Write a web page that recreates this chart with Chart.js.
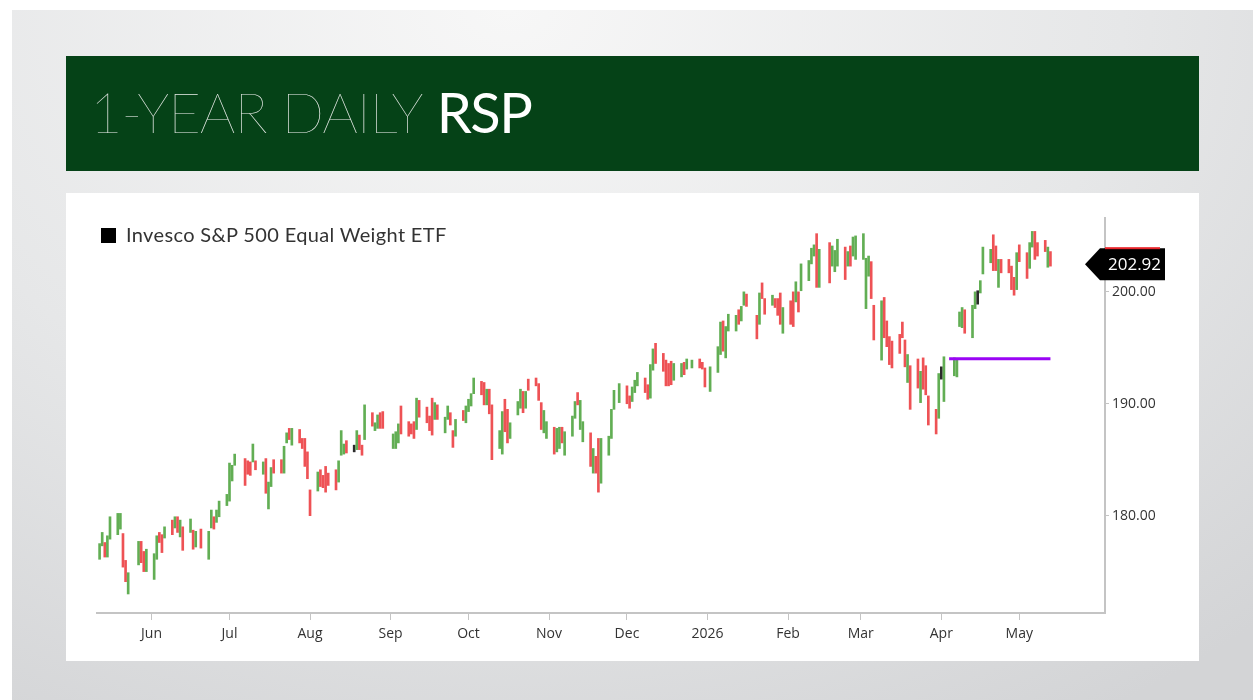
<!DOCTYPE html>
<html>
<head>
<meta charset="utf-8">
<title>1-Year Daily RSP</title>
<script src="https://cdn.jsdelivr.net/npm/chart.js@4.4.1/dist/chart.umd.min.js"></script>
<style>
    html, body { margin: 0; padding: 0; width: 1253px; height: 700px; overflow: hidden; background: #ffffff; }
    #backdrop {
        position: absolute; left: 12px; top: 10px; width: 1241px; height: 690px;
        background: radial-gradient(ellipse 90% 120% at 40% 0%, #f7f7f7 0%, #e6e7e8 55%, #d3d4d6 100%);
    }
    #header {
        position: absolute; left: 66px; top: 56px; width: 1133px; height: 115px;
        background: #054217; font-family: Lato, sans-serif; font-size: 56px;
        line-height: 111px; padding-left: 24px; box-sizing: border-box; white-space: nowrap;
    }
    #header .thin { font-weight: 100; color: #e9ece9; letter-spacing: -1px; }
    #header .bold { font-weight: 400; color: #ffffff; letter-spacing: -1.5px; }
    #panel { position: absolute; left: 66px; top: 193px; width: 1133px; height: 468px; background: #ffffff; }
    #legend {
        position: absolute; left: 35px; top: 29px; font-family: Lato, sans-serif; font-size: 20px;
        letter-spacing: 0.35px; color: #333333; line-height: 24px; white-space: nowrap;
    }
    #legend .swatch { display: inline-block; width: 15px; height: 15px; background: #000; vertical-align: -1px; margin-right: 10px; }
    #chartWrap { position: absolute; left: 0; top: 0; width: 1133px; height: 468px; }
</style>
</head>
<body>
<div id="backdrop"></div>
<div id="header"><span class="thin">1-YEAR DAILY</span> <span class="bold">RSP</span></div>
<div id="panel">
    <div id="chartWrap"><canvas id="rspChart"></canvas></div>
    <div id="legend"><span class="swatch"></span>Invesco S&amp;P 500 Equal Weight ETF</div>
</div>
<script>
// ---- data ---------------------------------------------------------------
const firstDay = '2025-05-12';
const lastDay = '2026-05-13';
const marketHolidays = ['2025-05-26', '2025-06-19', '2025-07-04', '2025-09-01', '2025-11-27',
    '2025-12-25', '2026-01-01', '2026-01-19', '2026-02-16', '2026-04-03'];

const highs = [
    177.5, 178.5, 177.6, 178.2, 179.9, 180.2, 180.2, 178.4, 176.0, 174.9,
    177.7, 177.7, 176.8, 177.0, 176.6, 178.2, 178.5, 178.3, 179.0, 179.6,
    179.9, 179.9, 179.6, 179.0, 179.7, 178.7, 178.6, 178.8, 178.6, 180.5,
    179.9, 180.5, 181.3, 181.9, 184.7, 184.5, 185.5, 185.1, 184.9, 184.8,
    186.4, 184.9, 184.8, 185.1, 183.0, 184.3, 185.0, 185.0, 186.2, 187.4,
    187.8, 187.8, 187.7, 186.9, 186.9, 185.7, 182.3, 183.9, 184.1, 183.6,
    184.4, 183.8, 184.1, 184.9, 187.6, 186.4, 186.7, 186.3, 187.6, 187.2,
    186.3, 189.9, 189.2, 188.3, 189.0, 189.2, 189.3, 187.3, 187.5, 188.2,
    189.8, 188.4, 188.2, 188.4, 190.5, 190.3, 189.7, 188.9, 190.5, 190.1,
    189.9, 188.8, 189.8, 189.2, 187.6, 188.6, 189.4, 189.8, 190.4, 190.9,
    192.3, 192.0, 191.9, 191.3, 191.3, 189.9, 187.6, 189.3, 190.4, 189.5,
    188.3, 190.2, 191.3, 191.1, 191.1, 192.2, 192.3, 191.8, 190.1, 189.4,
    188.4, 187.9, 187.8, 187.9, 187.9, 187.5, 188.9, 190.2, 191.0, 190.3,
    188.4, 187.4, 186.0, 185.3, 186.9, 186.9, 187.1, 189.5, 191.2, 191.8,
    191.6, 190.7, 191.5, 192.1, 192.8, 192.3, 191.7, 193.5, 194.9, 195.4,
    194.5, 193.9, 193.6, 193.8, 193.6, 193.6, 193.7, 194.0, 193.9, 194.0,
    193.7, 193.2, 193.3, 195.1, 197.3, 197.4, 196.9, 198.0, 197.9, 198.4,
    198.7, 200.0, 199.8, 197.9, 199.9, 200.8, 199.4, 199.7, 199.4, 199.4,
    199.9, 198.6, 199.2, 200.0, 200.9, 200.0, 202.5, 202.8, 203.9, 204.2,
    205.2, 203.8, 204.4, 204.1, 203.7, 204.7, 204.0, 203.6, 204.1, 204.9,
    205.0, 205.2, 203.0, 203.2, 202.7, 198.8, 199.2, 199.5, 197.4, 196.0,
    195.6, 196.2, 197.3, 195.7, 194.4, 193.4, 194.0, 192.9, 194.1, 193.4,
    190.7, 189.5, 192.7, 193.3, 194.2, 194.1, 193.9, 198.2, 198.6, 198.4,
    198.8, 200.0, 200.1, 201.0, 204.0, 203.8, 205.1, 204.1, 202.9, 202.9,
    202.9, 202.3, 201.3, 203.5, 204.2, 203.5, 204.4, 205.4, 205.4, 204.4,
    204.6, 204.0, 203.6
];

const lows = [
    176.1, 177.3, 176.3, 176.3, 177.9, 178.3, 178.8, 175.4, 174.1, 173.0,
    175.6, 175.8, 175.0, 175.0, 174.3, 176.1, 177.6, 176.7, 178.0, 178.3,
    178.9, 178.5, 178.1, 176.9, 178.5, 177.0, 177.2, 177.1, 176.1, 178.9,
    178.8, 179.4, 179.9, 180.9, 181.3, 183.1, 184.5, 182.7, 183.7, 183.6,
    184.8, 184.1, 183.7, 182.0, 180.6, 182.6, 183.8, 183.8, 183.8, 186.5,
    186.8, 186.3, 186.5, 186.0, 184.4, 183.3, 180.0, 182.2, 182.6, 182.5,
    182.1, 182.7, 182.3, 183.0, 185.4, 185.5, 185.6, 185.7, 185.9, 185.9,
    185.4, 186.8, 188.0, 187.6, 187.8, 187.8, 187.8, 186.0, 186.0, 186.5,
    187.3, 187.1, 187.3, 186.9, 187.7, 188.8, 188.3, 187.6, 187.2, 188.6,
    188.6, 187.4, 188.6, 188.1, 186.1, 187.1, 188.5, 188.3, 189.3, 189.8,
    190.9, 190.8, 189.9, 189.9, 189.1, 185.0, 186.0, 185.5, 187.5, 186.5,
    186.9, 189.0, 189.6, 189.2, 189.6, 191.2, 191.6, 190.3, 187.7, 187.4,
    186.9, 185.5, 185.7, 186.0, 186.5, 185.4, 187.1, 188.7, 189.9, 187.7,
    186.6, 184.4, 183.8, 183.8, 182.1, 182.9, 185.4, 186.9, 189.5, 190.1,
    190.0, 189.6, 190.2, 191.0, 191.6, 191.0, 190.4, 190.5, 193.0, 193.6,
    192.9, 191.6, 191.6, 191.7, 192.1, 192.4, 192.6, 193.1, 193.2, 193.2,
    193.1, 191.5, 191.1, 192.8, 194.4, 194.7, 194.1, 196.5, 196.5, 197.1,
    197.4, 198.8, 198.7, 195.8, 197.1, 199.4, 198.0, 198.8, 198.6, 197.9,
    197.1, 196.3, 197.1, 196.9, 199.1, 198.2, 200.1, 201.0, 202.5, 203.2,
    200.4, 200.4, 200.8, 202.3, 201.8, 202.3, 201.1, 202.3, 202.3, 203.2,
    202.9, 202.9, 198.5, 201.4, 199.4, 195.7, 193.9, 195.9, 195.1, 193.5,
    193.2, 194.5, 195.9, 193.3, 191.9, 189.5, 191.4, 190.1, 191.3, 190.8,
    188.1, 187.3, 188.7, 192.2, 190.2, 192.5, 192.4, 196.9, 196.8, 196.3,
    195.9, 198.5, 198.9, 199.9, 201.6, 202.6, 201.9, 201.9, 200.4, 201.7,
    201.7, 200.2, 199.7, 200.2, 202.7, 201.2, 202.1, 204.0, 202.9, 203.2,
    203.6, 202.2, 202.3
];

// g = up day, r = down day, k = unchanged (ten sessions per group)
const moves = [
    'ggrggggrrg', 'grrgggrrgr', 'grgrgrgrgg', 'rggggggrrr', 'grgrggrrgg',
    'rgrrrrrgrr', 'rrrgggrkgr', 'rgrggrrggg', 'rrrrgrrrrg', 'rggrrgrggg',
    'grrgrrggrr', 'gggrgrrrrg', 'grggrgggrg', 'grgrrggggg', 'rrgggrrggr',
    'rrrrggrggr', 'rrgggrgggr', 'ggrrgrrgrr', 'rgrrgrgggg', 'rgrgggrgrg',
    'ggggrrgrrr', 'rrrrgrrgrr', 'rrgkgggggr', 'ggkgggrrgr', 'rrrgrrggrr',
    'rgr'
].join('').split('');

const lastClose = 202.92;
const supportLevel = 194.02;
const supportFrom = '2026-04-04';
const supportTo = '2026-05-13';

const monthTicks = ['2025-06-01', '2025-07-01', '2025-08-01', '2025-09-01', '2025-10-01', '2025-11-01',
    '2025-12-01', '2026-01-01', '2026-02-01', '2026-03-01', '2026-04-01', '2026-05-01'];
const monthLabels = ['Jun', 'Jul', 'Aug', 'Sep', 'Oct', 'Nov', 'Dec', '2026', 'Feb', 'Mar', 'Apr', 'May'];

const axisFrom = '2025-05-11';
const axisTo = '2026-06-03';
const priceMin = 171.3;
const priceMax = 206.6;
const priceTicks = [180, 190, 200];

// ---- helpers ------------------------------------------------------------
const dayNum = (s) => Date.UTC(+s.slice(0, 4), +s.slice(5, 7) - 1, +s.slice(8, 10)) / 86400000;

function tradingDays(from, to, skip) {
    const out = [];
    for (let d = dayNum(from); d <= dayNum(to); d++) {
        const dt = new Date(d * 86400000);
        const wd = dt.getUTCDay();
        const key = dt.toISOString().slice(0, 10);
        if (wd !== 0 && wd !== 6 && !skip.includes(key)) out.push(d);
    }
    return out;
}

const sessionDays = tradingDays(firstDay, lastDay, marketHolidays);
const moveColors = { g: '#62ae54', r: '#ee5255', k: '#2b2b2b' };
const tickLabelByDay = {};
monthTicks.forEach((m, i) => { tickLabelByDay[dayNum(m)] = monthLabels[i]; });

const axisFont = { family: '"Open Sans", "Noto Sans", sans-serif', size: 14 };
const axisGray = '#c4c4c4';

// last-price tag hanging off the right axis
const lastPriceTag = {
    id: 'lastPriceTag',
    afterDraw(chart) {
        const { ctx, chartArea } = chart;
        const y = chart.scales.y.getPixelForValue(lastClose) + 5;
        const tip = chartArea.right - 20, left = chartArea.right - 5, right = chartArea.right + 60;
        const h = 32;
        ctx.save();
        ctx.fillStyle = '#000';
        ctx.beginPath();
        ctx.moveTo(tip, y);
        ctx.lineTo(left, y - h / 2);
        ctx.lineTo(right, y - h / 2);
        ctx.lineTo(right, y + h / 2);
        ctx.lineTo(left, y + h / 2);
        ctx.closePath();
        ctx.fill();
        ctx.fillStyle = '#e8242a';
        ctx.fillRect(chartArea.right, y - h / 2 - 1, 55, 2);
        ctx.fillStyle = '#fff';
        ctx.font = '17px "Open Sans", "Noto Sans", sans-serif';
        ctx.textAlign = 'center';
        ctx.textBaseline = 'middle';
        ctx.fillText(lastClose.toFixed(2), (left + right) / 2 + 2, y + 1);
        ctx.restore();
    }
};

new Chart(document.getElementById('rspChart'), {
    type: 'bar',
    data: {
        datasets: [
            {
                type: 'line',
                label: 'Level',
                data: [{ x: dayNum(supportFrom), y: supportLevel }, { x: dayNum(supportTo), y: supportLevel }],
                borderColor: '#9a05f5',
                borderWidth: 3,
                pointRadius: 0,
                order: 1
            },
            {
                label: 'Invesco S&P 500 Equal Weight ETF',
                data: sessionDays.map((d, i) => ({ x: d, y: [lows[i], highs[i]] })),
                backgroundColor: sessionDays.map((d, i) => moveColors[moves[i]]),
                barThickness: 2,
                borderWidth: 0,
                order: 2
            }
        ]
    },
    options: {
        responsive: true,
        maintainAspectRatio: false,
        animation: false,
        layout: { padding: { left: 31, top: 25, right: 0, bottom: 0 } },
        plugins: { legend: { display: false }, tooltip: { enabled: false } },
        scales: {
            x: {
                type: 'linear',
                min: dayNum(axisFrom),
                max: dayNum(axisTo),
                offset: false,
                afterBuildTicks: (scale) => { scale.ticks = monthTicks.map(m => ({ value: dayNum(m) })); },
                afterFit: (scale) => { scale.height = 48; },
                ticks: {
                    autoSkip: false,
                    maxRotation: 0,
                    padding: 6,
                    color: '#333',
                    font: axisFont,
                    callback: (v) => tickLabelByDay[v] || ''
                },
                grid: { drawOnChartArea: false, drawTicks: true, tickLength: 7, color: axisGray, offset: false },
                border: { display: true, color: axisGray, width: 2 }
            },
            y: {
                position: 'right',
                min: priceMin,
                max: priceMax,
                afterBuildTicks: (scale) => { scale.ticks = priceTicks.map(v => ({ value: v })); },
                afterFit: (scale) => { scale.width = 94; },
                ticks: {
                    padding: 3,
                    color: '#333',
                    font: axisFont,
                    callback: (v) => Number(v).toFixed(2)
                },
                grid: { drawOnChartArea: false, drawTicks: true, tickLength: 4, color: axisGray },
                border: { display: true, color: axisGray, width: 2 }
            }
        }
    },
    plugins: [lastPriceTag]
});
</script>
</body>
</html>
